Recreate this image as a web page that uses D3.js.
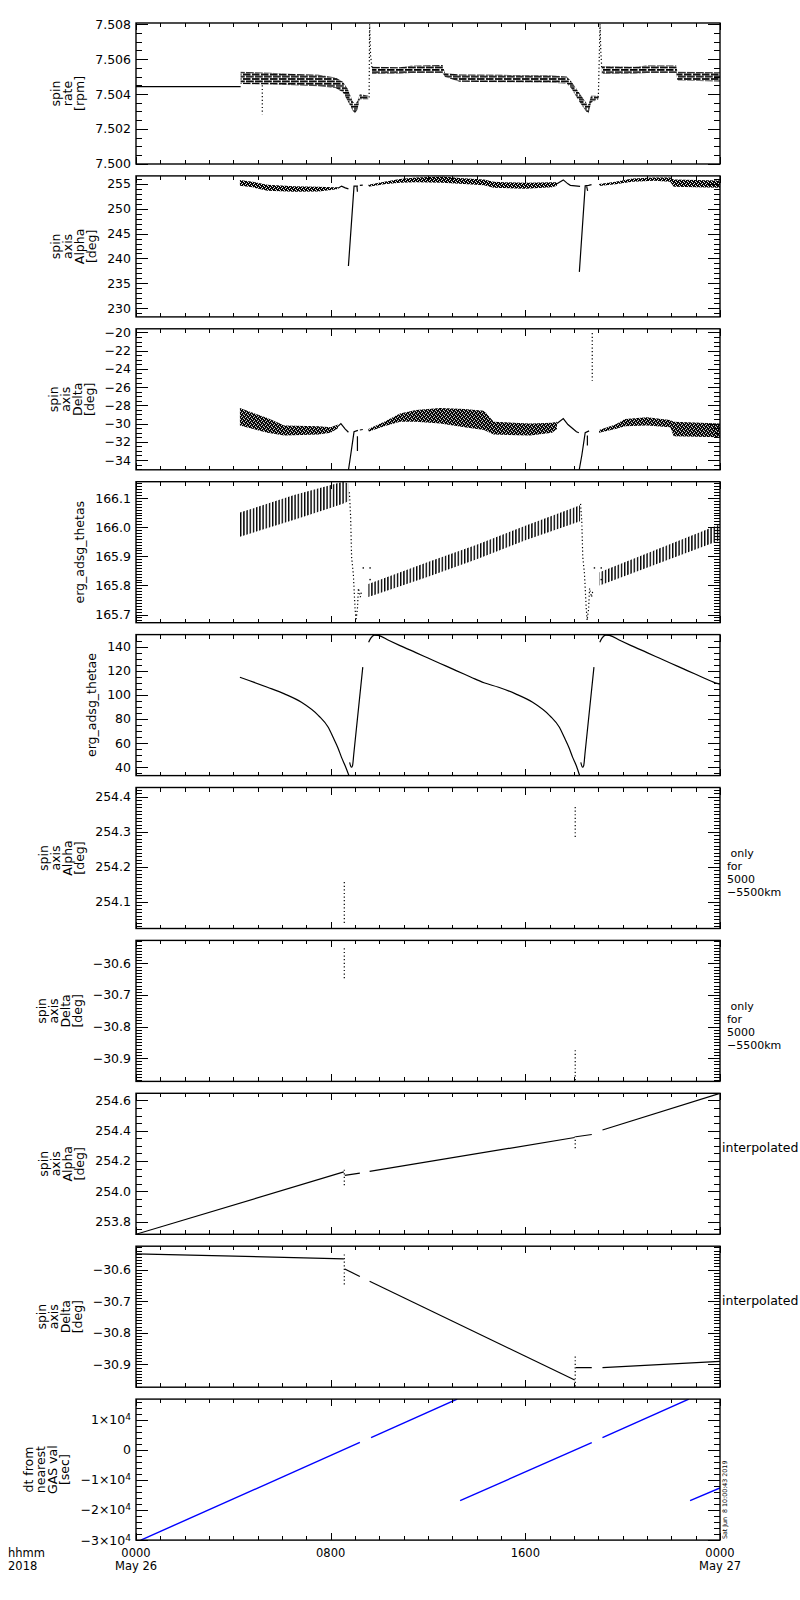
<!DOCTYPE html>
<html>
<head>
<meta charset="utf-8">
<script src="https://cdn.jsdelivr.net/npm/d3@7"></script>
<style>
  body { margin: 0; background: #fff; }
  svg { font-family: "DejaVu Sans", sans-serif; }
  text { white-space: pre; }
</style>
</head>
<body>
<script>
// time is in hours after 0000 May 26 2018
var majorHours = [0, 8, 16, 24];
var hourLabels = ["0000", "0800", "1600", "0000"];
var dateLabels = ["May 26", "", "", "May 27"];

// panel 1: spin rate [rpm]  (t, value) or (t, low, high)
var spinFlat = [[0, 7.50442], [4.3, 7.50442]];
var spinBand1 = [[4.3, 7.50458, 7.50528], [5.5, 7.50455, 7.50522], [6.5, 7.5045, 7.50515], [7.5, 7.50445, 7.5051],
  [8.2, 7.50435, 7.50495], [8.5, 7.5041, 7.5047], [8.7, 7.5036, 7.5043], [8.9, 7.50305, 7.5036], [9.0, 7.5029, 7.5034],
  [9.1, 7.5031, 7.5036], [9.2, 7.5037, 7.504], [9.55, 7.5037, 7.5039]];
var spinBand2 = [[9.7, 7.50515, 7.50556], [10.85, 7.50516, 7.50554], [11.3, 7.5052, 7.50562], [12.6, 7.5052, 7.50566],
  [12.7, 7.50498, 7.5052], [13.3, 7.5047, 7.50512], [15, 7.50468, 7.5051], [17.0, 7.50465, 7.50508], [17.7, 7.5046, 7.505],
  [17.9, 7.5043, 7.5047], [18.2, 7.5036, 7.5041], [18.5, 7.503, 7.5035], [18.6, 7.5029, 7.5034], [18.7, 7.5035, 7.5039],
  [19.0, 7.5037, 7.5039]];
var spinBand3 = [[19.14, 7.50515, 7.5056], [20.5, 7.50516, 7.50556], [21.0, 7.5052, 7.50564], [22.2, 7.5052, 7.50564],
  [22.25, 7.50478, 7.50528], [24, 7.50472, 7.50525]];
var spinSpike1 = [[9.58, 7.5038], [9.6, 7.508], [9.64, 7.5062], [9.7, 7.5055]];
var spinSpike2 = [[19.0, 7.5038], [19.07, 7.508], [19.1, 7.5065], [19.14, 7.5055]];
var spinOutlier = [[5.19, 7.5045], [5.19, 7.50284]];

// panel 2: spin axis alpha [deg]
var alphaBand1 = [[4.27, 254.6, 255.8], [4.8, 254.3, 255.4], [5.4, 253.6, 254.8], [6.5, 253.4, 254.5], [7.5, 253.45, 254.4],
  [8.1, 253.8, 254.3], [8.3, 253.95, 254.3]];
var alphaTail1 = [[8.3, 254.1], [8.45, 254.55], [8.6, 254.2], [8.73, 254.0]];
var alphaDrop1 = [[8.73, 238.5], [8.96, 254.55], [9.12, 254.55]];
var alphaHook1 = [[9.08, 254.5], [9.1, 253.4]];
var alphaStub1 = [[9.2, 254.7], [9.32, 254.75]];
var alphaBand2 = [[9.55, 254.4, 254.8], [10.2, 254.9, 255.4], [10.85, 255.2, 256.0], [11.5, 255.3, 256.3], [12.6, 255.2, 256.5],
  [13.3, 255.0, 256.2], [14.3, 254.7, 255.9], [14.7, 254.2, 255.4], [16, 254.0, 255.2], [17.1, 254.3, 255.3], [17.3, 254.6, 255.3]];
var alphaTail2 = [[17.3, 255.0], [17.56, 255.8], [17.75, 255.0], [17.85, 254.7], [18.25, 254.5]];
var alphaDrop2 = [[18.22, 237.3], [18.46, 254.6], [18.6, 254.7], [18.72, 254.85]];
var alphaHook2 = [[18.52, 254.5], [18.56, 253.6]];
var alphaBand3 = [[19.03, 254.55, 254.95], [19.7, 254.9, 255.4], [20.4, 255.4, 256.1], [21.3, 255.6, 256.3], [21.95, 255.4, 256.3],
  [22.1, 254.4, 255.9], [24, 254.2, 255.7]];

// panel 3: spin axis delta [deg]
var deltaBand1 = [[4.27, -30.2, -28.3], [5.4, -31.0, -29.4], [6.1, -31.3, -30.2], [7.5, -31.2, -30.3], [8.0, -31.0, -30.4],
  [8.3, -30.5, -30.1]];
var deltaTail1 = [[8.3, -30.3], [8.42, -30.0], [8.6, -30.6], [8.73, -30.95]];
var deltaDrop1 = [[8.72, -35.3], [8.82, -33.5], [8.96, -30.9], [9.12, -30.75]];
var deltaHook1 = [[9.1, -31.4], [9.1, -33.0]];
var deltaStub1 = [[9.2, -30.7], [9.32, -30.65]];
var deltaBand2 = [[9.55, -30.9, -30.6], [10.2, -30.3, -29.8], [10.85, -29.8, -28.9], [11.5, -29.8, -28.5], [12.5, -30.0, -28.3],
  [13.5, -30.4, -28.4], [14.3, -30.7, -28.6], [14.7, -31.2, -29.8], [16.2, -31.3, -30.0], [17.1, -31.0, -29.9], [17.3, -30.6, -29.8]];
var deltaTail2 = [[17.3, -30.0], [17.56, -29.45], [17.75, -30.1], [18.1, -30.9], [18.2, -31.0]];
var deltaDrop2 = [[18.2, -35.3], [18.32, -33.5], [18.46, -31.0], [18.62, -30.8]];
var deltaHook2 = [[18.55, -31.3], [18.55, -32.4]];
var deltaSpike = [[18.75, -20.07], [18.75, -25.3]];
var deltaBand3 = [[19.03, -31.0, -30.7], [19.7, -30.6, -30.1], [20.1, -30.3, -29.5], [21.0, -30.2, -29.3], [21.95, -30.4, -29.6],
  [22.1, -31.4, -29.8], [24, -31.5, -30.0]];

// panel 4: erg_adsg_thetas
var thetasBand1 = [[4.27, 165.967, 166.05], [6.5, 166.025, 166.11], [8.5, 166.08, 166.156], [8.75, 166.09, 166.15]];
var thetasDrop1 = [[8.77, 166.12], [8.82, 166.036], [8.86, 165.898], [8.93, 165.84], [9.0, 165.725], [9.04, 165.68],
  [9.1, 165.72], [9.14, 165.79], [9.22, 165.76], [9.27, 165.78]];
var thetasBand2 = [[9.55, 165.76, 165.805], [12, 165.83, 165.88], [14, 165.89, 165.94], [16, 165.955, 166.005], [18.25, 166.02, 166.075]];
var thetasDrop2 = [[18.27, 166.08], [18.32, 166.02], [18.36, 165.898], [18.43, 165.84], [18.5, 165.725], [18.54, 165.68],
  [18.6, 165.72], [18.64, 165.79], [18.72, 165.76], [18.77, 165.78]];
var thetasBand3 = [[19.05, 165.8, 165.845], [24, 165.955, 166.01]];
var thetasDots = [[9.34, 165.86], [9.62, 165.86], [9.62, 165.82], [18.84, 165.86], [19.12, 165.86], [19.12, 165.82]];

// panel 5: erg_adsg_thetae
var thetae1 = [[4.27, 114.6], [5.4, 106.3], [6.1, 100.8], [6.8, 93.8], [7.5, 82.8], [7.9, 73.1], [8.1, 64.8], [8.3, 56],
  [8.45, 48], [8.6, 41], [8.75, 33.1]];
var thetae1b = [[8.78, 44], [8.85, 40], [8.9, 41.5], [8.95, 51], [9.32, 123]];
var thetae2 = [[9.56, 143.6], [9.65, 147], [9.8, 149.5], [9.95, 149.3], [10.4, 145], [10.85, 140.8], [11.5, 135], [12, 130.5],
  [12.5, 126], [13, 121.5], [13.5, 117], [13.77, 114.6], [14.3, 110], [14.9, 106.3], [15.6, 100.8], [16.3, 93.8], [17.0, 82.8],
  [17.4, 73.1], [17.6, 64.8], [17.8, 56], [17.95, 48], [18.1, 41], [18.23, 33.1]];
var thetae2b = [[18.28, 44], [18.35, 40], [18.4, 41.5], [18.45, 51], [18.82, 123]];
var thetae3 = [[19.06, 143.6], [19.15, 147], [19.3, 149.5], [19.45, 149.3], [19.9, 145], [20.35, 140.8], [21, 135], [21.5, 130.5],
  [22, 126], [22.5, 121.5], [23, 117], [23.27, 114.6], [23.8, 110], [24, 108.8]];

// panels 6-7: only for 5000-5500km
var alphaOnly1 = [[8.56, 254.04], [8.56, 254.157]];
var alphaOnly2 = [[18.05, 254.285], [18.05, 254.375]];
var deltaOnly1 = [[8.56, -30.552], [8.56, -30.653]];
var deltaOnly2 = [[18.05, -30.875], [18.05, -30.97]];

// panels 8-9: interpolated
var alphaInterp1 = [[0, 253.716], [8.54, 254.128]];
var alphaInterp2 = [[8.58, 254.105], [9.2, 254.12]];
var alphaInterp3 = [[9.6, 254.131], [18.03, 254.355]];
var alphaInterp4 = [[18.08, 254.36], [18.73, 254.375]];
var alphaInterp5 = [[19.17, 254.405], [24, 254.647]];
var deltaInterp1 = [[0, -30.55], [8.54, -30.566]];
var deltaInterp2 = [[8.58, -30.598], [9.2, -30.622]];
var deltaInterp3 = [[9.6, -30.637], [18.03, -30.949]];
var deltaInterp4 = [[18.08, -30.91], [18.73, -30.91]];
var deltaInterp5 = [[19.17, -30.91], [24, -30.89]];

// panel 10: dt from nearest GAS val [sec]
var dt1 = [[0.2, -30000], [9.2, 2400]];
var dt2 = [[9.66, 4000], [13.2, 16800]];
var dt3 = [[13.32, -16900], [18.73, 2333]];
var dt4 = [[19.17, 4000], [22.72, 16800]];
var dt5 = [[22.77, -16900], [24, -12670]];

// y axes
var yDomains = [[7.49999, 7.50807], [228.25, 256.6], [-35.07, -19.6], [165.672, 166.156], [33.1, 149.9],
  [254.024, 254.426], [-30.974, -30.527], [253.716, 254.647], [-30.972, -30.526], [-30000, 16800]];
var yTicks = [[7.500, 7.502, 7.504, 7.506, 7.508], [230, 235, 240, 245, 250, 255], [-34, -32, -30, -28, -26, -24, -22, -20],
  [165.7, 165.8, 165.9, 166.0, 166.1], [40, 60, 80, 100, 120, 140], [254.1, 254.2, 254.3, 254.4],
  [-30.9, -30.8, -30.7, -30.6], [253.8, 254.0, 254.2, 254.4, 254.6], [-30.9, -30.8, -30.7, -30.6],
  [-30000, -20000, -10000, 0, 10000]];
var yMinor = [0.0005, 1, 0.5, 0.01, 5, 0.01, 0.01, 0.05, 0.01, 2000];
var yFormats = [".3f", "d", "d", ".1f", "d", ".1f", ".1f", ".1f", ".1f", "sci"];
var yTitles = [["spin", "rate", "[rpm]"], ["spin", "axis", "Alpha", "[deg]"], ["spin", "axis", "Delta", "[deg]"],
  ["erg_adsg_thetas"], ["erg_adsg_thetae"], ["spin", "axis", "Alpha", "[deg]"], ["spin", "axis", "Delta", "[deg]"],
  ["spin", "axis", "Alpha", "[deg]"], ["spin", "axis", "Delta", "[deg]"], ["dt from", "nearest", "GAS val", "[sec]"]];
var rightNotes = [null, null, null, null, null, [" only", "for", "5000", "−5500km"], [" only", "for", "5000", "−5500km"],
  ["interpolated"], ["interpolated"], null];
var stamp = "Sat Jun  8 10:00:43 2019";

var panels = [
  { bands: [spinBand1, spinBand2, spinBand3], fill: "url(#dash)", lines: [spinFlat], dotted: [spinSpike1, spinSpike2, spinOutlier] },
  { bands: [alphaBand1, alphaBand2, alphaBand3], fill: "url(#speck)",
    lines: [alphaTail1, alphaDrop1, alphaHook1, alphaStub1, alphaTail2, alphaDrop2, alphaHook2] },
  { bands: [deltaBand1, deltaBand2, deltaBand3], fill: "url(#speck)",
    lines: [deltaTail1, deltaDrop1, deltaHook1, deltaStub1, deltaTail2, deltaDrop2, deltaHook2], dotted: [deltaSpike] },
  { bands: [thetasBand1, thetasBand2, thetasBand3], fill: "url(#hatch)", dotted: [thetasDrop1, thetasDrop2], dots: thetasDots },
  { lines: [thetae1, thetae1b, thetae2, thetae2b, thetae3], smooth: true },
  { dotted: [alphaOnly1, alphaOnly2] },
  { dotted: [deltaOnly1, deltaOnly2] },
  { lines: [alphaInterp1, alphaInterp2, alphaInterp3, alphaInterp4, alphaInterp5], dotted: [alphaOnly1, alphaOnly2] },
  { lines: [deltaInterp1, deltaInterp2, deltaInterp3, deltaInterp4, deltaInterp5], dotted: [deltaOnly1, deltaOnly2] },
  { lines: [dt1, dt2, dt3, dt4, dt5], color: "#0000ff" }
];

var left = 136, right = 720, top0 = 23, step = 152.9, ph = 141;
var fontSize = 12.5;

var svg = d3.select("body").append("svg").attr("width", 800).attr("height", 1600);

var defs = svg.append("defs");
var pDash = defs.append("pattern").attr("id", "dash").attr("patternUnits", "userSpaceOnUse")
  .attr("width", 9).attr("height", 4.6);
pDash.append("rect").attr("x", 0).attr("y", 0).attr("width", 7.5).attr("height", 1.7);
pDash.append("rect").attr("x", 3).attr("y", 2.3).attr("width", 6).attr("height", 1.7);
pDash.append("rect").attr("x", 0).attr("y", 2.3).attr("width", 1.8).attr("height", 1.7);
var pSpeck = defs.append("pattern").attr("id", "speck").attr("patternUnits", "userSpaceOnUse")
  .attr("width", 4).attr("height", 4);
pSpeck.append("rect").attr("width", 4).attr("height", 4).attr("fill", "#000");
[[1, 0], [3, 1], [0, 2], [2, 3]].forEach(function (p) {
  pSpeck.append("rect").attr("x", p[0]).attr("y", p[1]).attr("width", 1).attr("height", 1).attr("fill", "#fff");
});
var pHatch = defs.append("pattern").attr("id", "hatch").attr("patternUnits", "userSpaceOnUse")
  .attr("width", 3.2).attr("height", 6).attr("patternTransform", "skewY(-15)");
pHatch.append("rect").attr("width", 1.4).attr("height", 6);

var x = d3.scaleLinear().domain([0, 24]).range([left, right]);
var hourTicks = d3.range(0, 25).filter(function (h) { return majorHours.indexOf(h) < 0; });

function minorValues(dom, m) {
  var out = [];
  for (var k = Math.ceil(dom[0] / m - 1e-9); k <= Math.floor(dom[1] / m + 1e-9); k++) out.push(k * m);
  return out;
}

function styleAxis(a) {
  a.select(".domain").remove();
  a.attr("font-size", null).attr("font-family", null);
  a.selectAll("line").attr("stroke", "#000").attr("stroke-width", 1).attr("shape-rendering", "crispEdges");
  a.selectAll("text").attr("font-size", fontSize).attr("fill", "#000");
}

panels.forEach(function (p, i) {
  var g = svg.append("g").attr("transform", "translate(0," + (top0 + step * i) + ")");
  var y = d3.scaleLinear().domain(yDomains[i]).range([ph, 0]);

  g.append("clipPath").attr("id", "clip" + i).append("rect")
    .attr("x", left).attr("y", 0).attr("width", right - left).attr("height", ph);
  var plot = g.append("g").attr("clip-path", "url(#clip" + i + ")");

  var area = d3.area().x(function (d) { return x(d[0]); })
    .y0(function (d) { return y(d[1]); }).y1(function (d) { return y(d[2]); });
  var line = d3.line().x(function (d) { return x(d[0]); }).y(function (d) { return y(d[1]); });
  var drawLine = p.smooth ? d3.line().curve(d3.curveMonotoneX)
    .x(function (d) { return x(d[0]); }).y(function (d) { return y(d[1]); }) : line;

  (p.bands || []).forEach(function (b) {
    plot.append("path").datum(b).attr("d", area).attr("fill", p.fill).attr("stroke", "none");
  });
  (p.lines || []).forEach(function (l) {
    plot.append("path").datum(l).attr("d", drawLine).attr("fill", "none")
      .attr("stroke", p.color || "#000").attr("stroke-width", p.color ? 1.4 : 1.2);
  });
  (p.dotted || []).forEach(function (l) {
    plot.append("path").datum(l).attr("d", line).attr("fill", "none")
      .attr("stroke", "#000").attr("stroke-width", 1.2).attr("stroke-dasharray", "1.2,2.4");
  });
  plot.selectAll("rect.dot").data(p.dots || []).enter().append("rect").attr("class", "dot")
    .attr("x", function (d) { return x(d[0]) - 0.7; }).attr("y", function (d) { return y(d[1]) - 0.7; })
    .attr("width", 1.4).attr("height", 1.4).attr("fill", "#000");

  // y axes, ticks point inward
  var fmt = yFormats[i] === "sci" ? function () { return ""; } : d3.format(yFormats[i]);
  var minor = minorValues(yDomains[i], yMinor[i]);
  g.append("g").attr("transform", "translate(" + left + ",0)")
    .call(d3.axisLeft(y).tickValues(minor).tickSize(-6).tickFormat("")).call(styleAxis);
  g.append("g").attr("transform", "translate(" + right + ",0)")
    .call(d3.axisRight(y).tickValues(minor).tickSize(-6).tickFormat("")).call(styleAxis);
  g.append("g").attr("transform", "translate(" + right + ",0)")
    .call(d3.axisRight(y).tickValues(yTicks[i]).tickSize(-12).tickFormat("")).call(styleAxis);
  var yAxis = g.append("g").attr("transform", "translate(" + left + ",0)")
    .call(d3.axisLeft(y).tickValues(yTicks[i]).tickSize(-12).tickPadding(5).tickFormat(fmt)).call(styleAxis);

  if (yFormats[i] === "sci") {
    yAxis.selectAll("text").each(function (d) {
      var t = d3.select(this).text("");
      if (d === 0) { t.text("0"); return; }
      var m = d / 1e4;
      t.append("tspan").text((m < 0 ? "−" : "") + Math.abs(m) + "×10");
      t.append("tspan").attr("dy", "-0.45em").attr("font-size", 9).text("4");
    });
  }

  // x axes on top and bottom
  [["axisBottom", ph], ["axisTop", 0]].forEach(function (a) {
    g.append("g").attr("transform", "translate(0," + a[1] + ")")
      .call(d3[a[0]](x).tickValues(hourTicks).tickSize(-4).tickFormat("")).call(styleAxis);
    g.append("g").attr("transform", "translate(0," + a[1] + ")")
      .call(d3[a[0]](x).tickValues(majorHours).tickSize(-7).tickFormat("")).call(styleAxis);
  });

  g.append("rect").attr("x", left).attr("y", 0).attr("width", right - left).attr("height", ph)
    .attr("fill", "none").attr("stroke", "#000").attr("stroke-width", 1.4);

  // y title, stacked rotated lines ending just left of the tick labels
  var maxW = d3.max(yAxis.selectAll("text").nodes(), function (n) { return n.getComputedTextLength(); });
  var xb = left - 5 - maxW - 11;
  var lines = yTitles[i];
  lines.forEach(function (s, k) {
    var xx = xb - (lines.length - 1 - k) * 12;
    g.append("text").attr("transform", "translate(" + xx + "," + (ph / 2) + ") rotate(-90)")
      .attr("text-anchor", "middle").attr("font-size", fontSize).text(s);
  });

  // notes on the right
  var notes = rightNotes[i];
  if (notes) {
    notes.forEach(function (s, k) {
      var multi = notes.length > 1;
      g.append("text").attr("x", multi ? 727 : 722).attr("y", (multi ? 69.5 : 58.5) + k * 13)
        .attr("font-size", multi ? 11 : fontSize).text(s);
    });
  }

  if (i === panels.length - 1) {
    var xl = 11.5;
    majorHours.forEach(function (h, k) {
      g.append("text").attr("x", x(h)).attr("y", ph + 16.5).attr("text-anchor", "middle")
        .attr("font-size", xl).text(hourLabels[k]);
      if (dateLabels[k]) {
        g.append("text").attr("x", x(h)).attr("y", ph + 30).attr("text-anchor", "middle")
          .attr("font-size", xl).text(dateLabels[k]);
      }
    });
    g.append("text").attr("x", 8).attr("y", ph + 16.5).attr("font-size", xl).text("hhmm");
    g.append("text").attr("x", 8).attr("y", ph + 30).attr("font-size", xl).text("2018");
    g.append("text").attr("transform", "translate(727," + (ph - 1) + ") rotate(-90)")
      .attr("font-size", 6.3).text(stamp);
  }
});
</script>
</body>
</html>
